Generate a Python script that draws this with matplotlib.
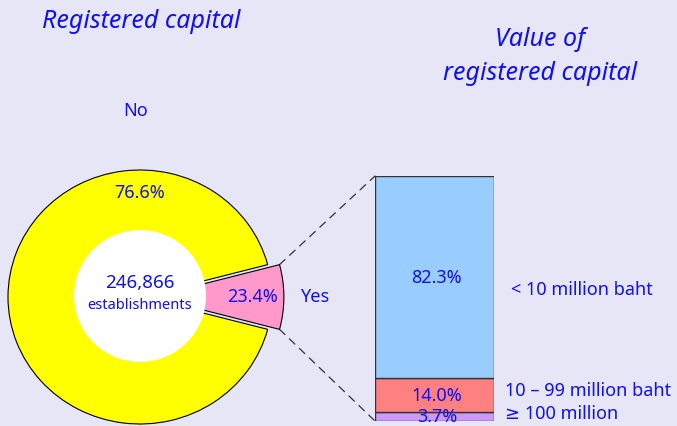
import matplotlib.pyplot as plt
import numpy as np
from matplotlib.patches import Circle, ConnectionPatch

plt.rcParams['font.family'] = ['Noto Sans', 'DejaVu Sans']

# registered capital: No / Yes
pie_labels = ['Yes', 'No']
pie_pct = [23.4, 76.6]
pie_drawn = [8.2, 91.8]   # slice sizes as drawn in the picture
pie_colors = ['#FF99CC', '#FFFF00']
total_est = '246,866'

# value of registered capital (stacked bar, bottom to top)
bar_labels = ['\u2265 100 million', '10 \u2013 99 million baht', '< 10 million baht']
bar_pct = [3.7, 14.0, 82.3]
bar_colors = ['#CC99FF', '#FF8080', '#99CCFF']

bg = '#E6E6F7'
txt = '#1010F0'
W, H = 677, 427

fig = plt.figure(figsize=(6.77, 4.27), dpi=100, facecolor=bg)
ax = fig.add_axes([0, 0, 1, 1], zorder=2)
ax.set_xlim(0, W)
ax.set_ylim(H, 0)
ax.axis('off')
ax.patch.set_visible(False)

# pie in its own axes, slightly flattened like the original
cx, cy, rx, ry = 140, 298, 132, 127
x0, x1, y0, y1 = 0, 300, 150, H
pax = fig.add_axes([x0 / W, 1 - y1 / H, (x1 - x0) / W, (y1 - y0) / H], zorder=1)
start = -pie_drawn[0] / 100 * 360 / 2
wedges, _ = pax.pie(pie_drawn, colors=pie_colors, startangle=start, radius=1,
                    center=(0, 0), explode=[0.09, 0], frame=True,
                    wedgeprops=dict(edgecolor='black', linewidth=0.8))
pax.set_aspect('auto')
pax.set_xlim((x0 - cx) / rx, (x1 - cx) / rx)
pax.set_ylim((cy - y1) / ry, (cy - y0) / ry)
pax.axis('off')

ax.add_patch(Circle((cx, cy - 1), 66, facecolor='white', edgecolor='none', zorder=5))

ax.text(cx, cy - 15, total_est, ha='center', va='center', fontsize=13.5, color=txt, zorder=6)
ax.text(cx, cy + 8, 'establishments', ha='center', va='center', fontsize=10.5, color=txt, zorder=6)
ax.text(cx, 193, f'{pie_pct[1]:.1f}%', ha='center', va='center', fontsize=13, color=txt)
ax.text(253, cy - 1, f'{pie_pct[0]:.1f}%', ha='center', va='center', fontsize=13, color=txt, zorder=6)
ax.text(315, cy - 1, pie_labels[0], ha='center', va='center', fontsize=13, color=txt)
ax.text(136, 111, pie_labels[1], ha='center', va='center', fontsize=13, color=txt)

ax.text(42, 22, 'Registered capital', ha='left', va='center', fontsize=18,
        style='italic', color=txt)
ax.text(540, 40, 'Value of', ha='center', va='center', fontsize=18, style='italic', color=txt)
ax.text(540, 73, 'registered capital', ha='center', va='center', fontsize=18,
        style='italic', color=txt)

# bar axes: pixels 375-494 x, 177-422 y
bax = fig.add_axes([375 / W, 1 - 422 / H, 119 / W, 245 / H], zorder=1)
bax.set_xlim(0, 1)
bax.set_ylim(0, 100)
bax.axis('off')
bottom = 0
label_x = [505, 505, 511]
label_y = [414, 391, 290]
for v, c, lab, lx, ly in zip(bar_pct, bar_colors, bar_labels, label_x, label_y):
    bax.bar(0.5, v, width=1, bottom=bottom, color=c, edgecolor='#333333', linewidth=1)
    bax.text(0.52, bottom + v / 2, f'{v:.1f}%', ha='center', va='center',
             fontsize=13, color=txt)
    bottom += v
    ax.text(lx, ly, lab, ha='left', va='center', fontsize=13, color=txt)

# dashed connectors from the pink slice to the bar
w = wedges[0]
for ang, yb in [(w.theta1, 0), (w.theta2, 1)]:
    px = w.center[0] + w.r * np.cos(np.radians(ang))
    py = w.center[1] + w.r * np.sin(np.radians(ang))
    con = ConnectionPatch(xyA=(px, py), coordsA='data', axesA=pax,
                          xyB=(0, yb), coordsB='axes fraction', axesB=bax,
                          linestyle=(0, (6, 5)), color='#333333', linewidth=0.9)
    fig.add_artist(con)

fig.savefig('out.png', dpi=100, facecolor=bg)
